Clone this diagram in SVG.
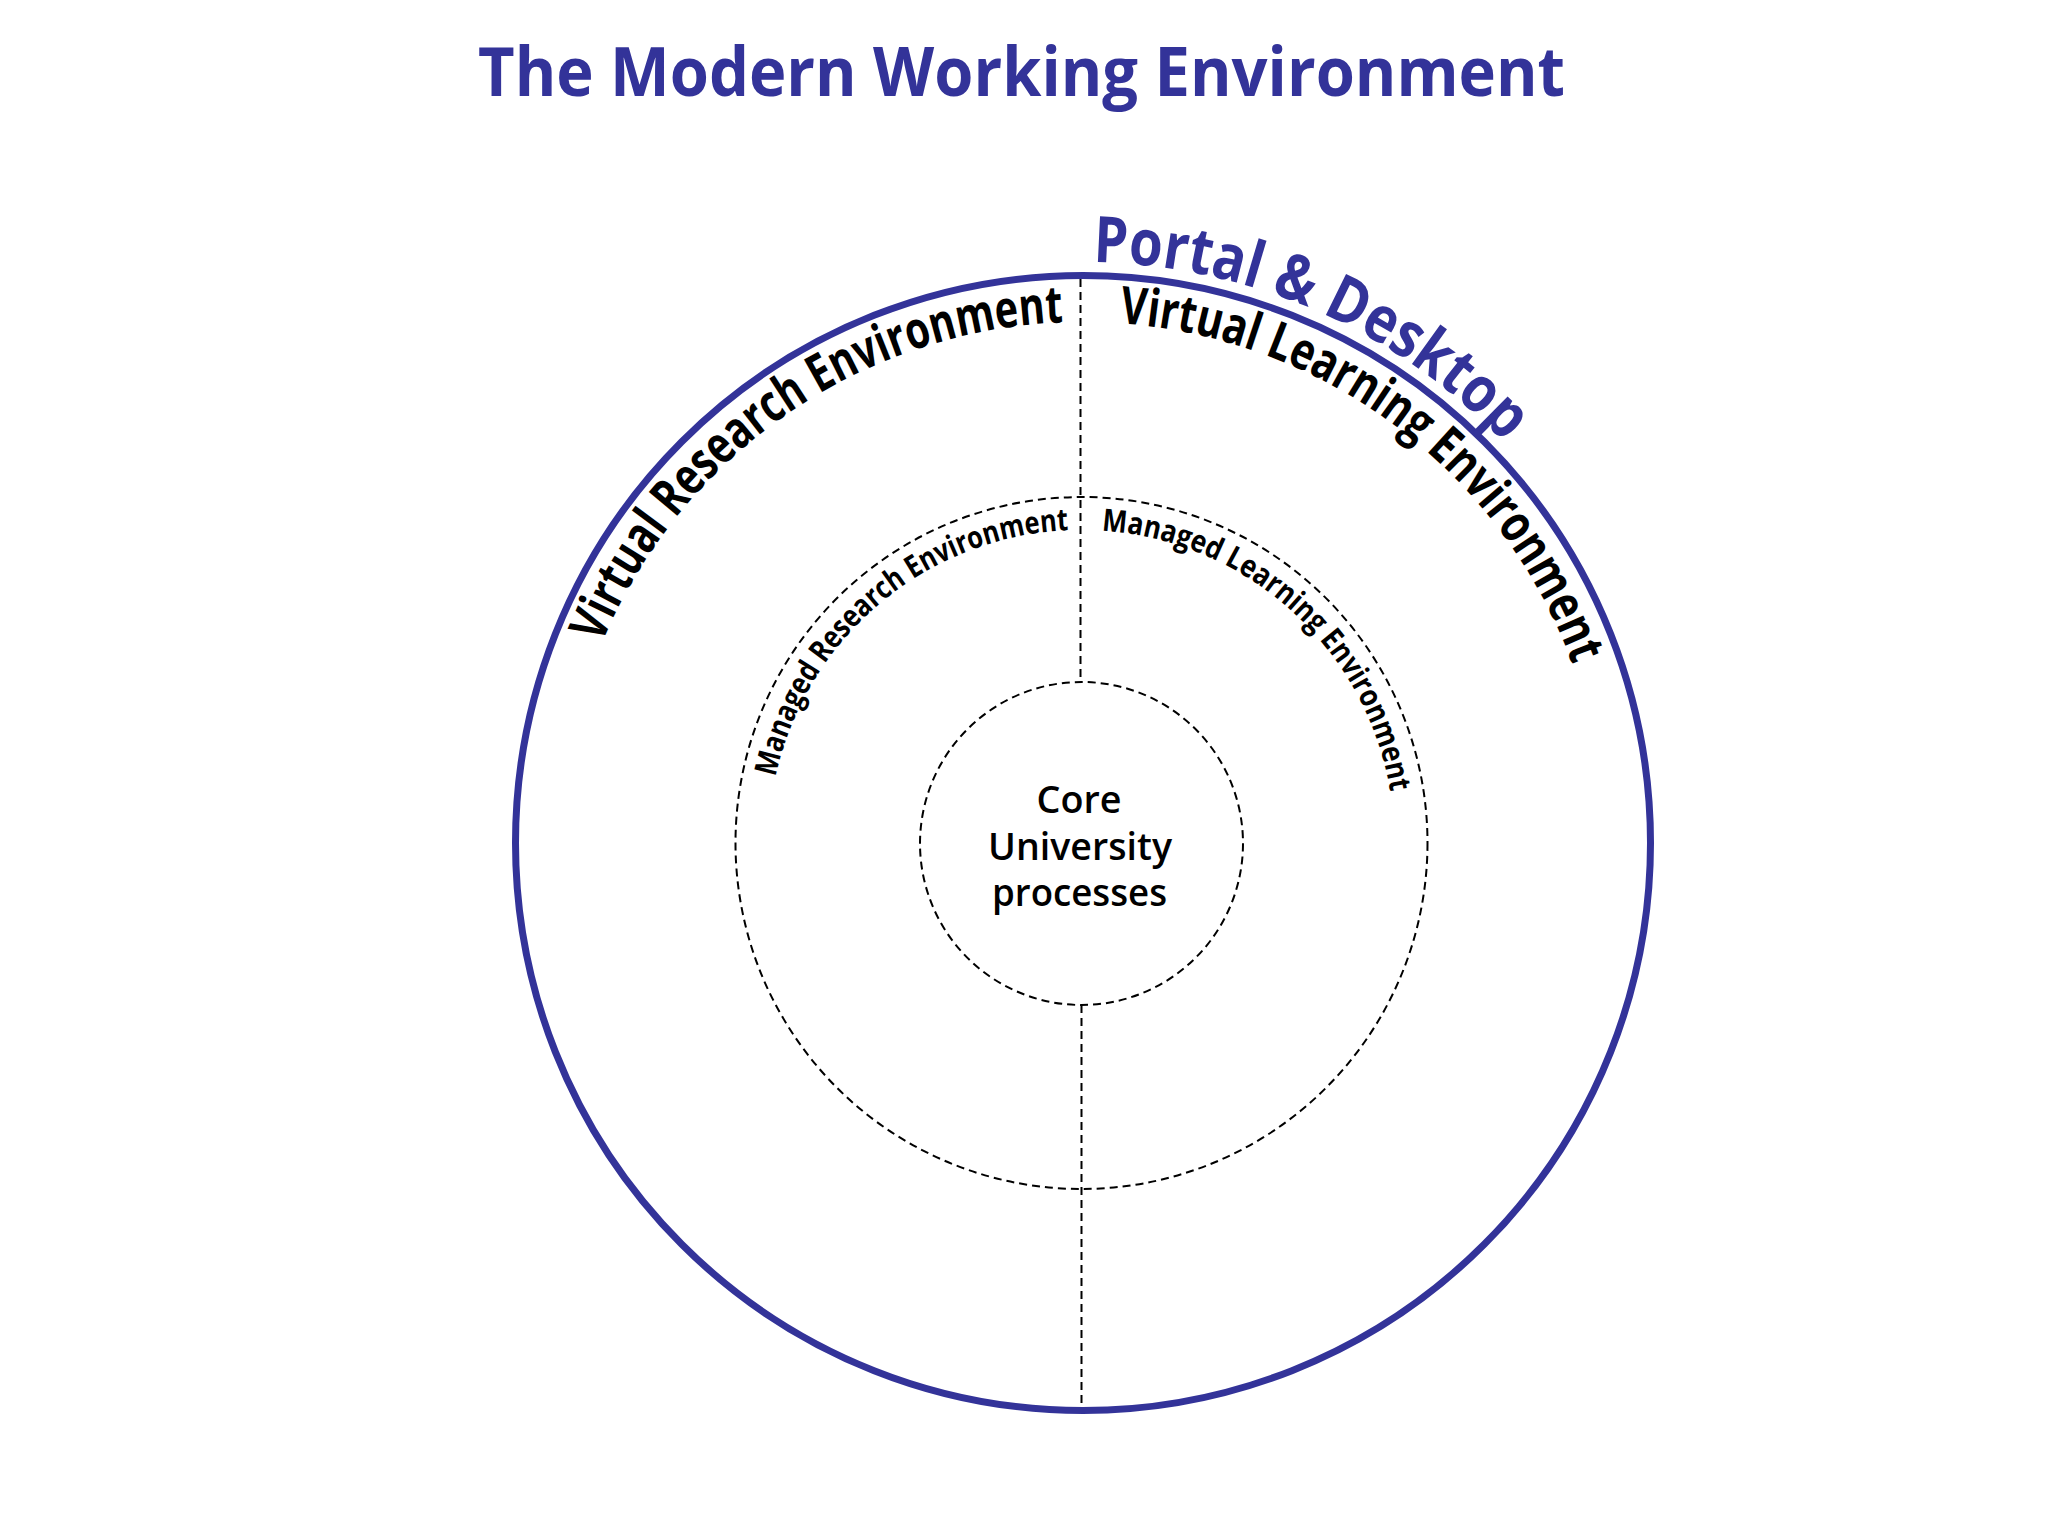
<svg xmlns="http://www.w3.org/2000/svg" width="2048" height="1536" viewBox="0 0 2048 1536">
<style>
.blue{fill:#333399;font-family:"Open Sans","Liberation Sans",sans-serif;}
.ring{fill:none;stroke:#333399;stroke-width:7;}
.dash{fill:none;stroke:#000;stroke-width:2;stroke-dasharray:8,5;}
.lbl{fill:#000;font-family:"Open Sans","Liberation Sans",sans-serif;font-weight:700;}
.core{fill:#000;font-family:"Open Sans","Liberation Sans",sans-serif;font-weight:600;font-size:37px;text-anchor:middle;}
</style>
<defs>
<path id="pPortal" d="M1093.14,262.09 A581,581 0 0 1 1586.2,552.5"/>
<path id="pVLE" d="M1119.34,323.27 A521,521 0 0 1 1602,797.6"/>
<path id="pVRE" d="M601.66,643.62 A521,521 0 0 1 1083,322"/>
<path id="pMRE" d="M775.57,776.86 A313,313 0 0 1 1081.5,530"/>
<path id="pMLE" d="M1101.7,530.65 A313,313 0 0 1 1394.5,843"/>
</defs>
<rect width="2048" height="1536" fill="#fff"/>
<g id="title">
<text class="blue" x="1021.5" y="96" font-size="68" font-weight="700" text-anchor="middle" textLength="1087" lengthAdjust="spacingAndGlyphs">The Modern Working Environment</text>
</g>
<g id="connectors">
<line class="dash" x1="1080.5" y1="279" x2="1080.5" y2="682"/>
<line class="dash" x1="1081.5" y1="1005" x2="1081.5" y2="1408"/>
</g>
<g id="portal-desktop">
<circle class="ring" cx="1083" cy="843" r="567.5"/>
<text class="blue" font-size="64" font-weight="700"><textPath href="#pPortal" textLength="461" lengthAdjust="spacingAndGlyphs">Portal &amp; Desktop</textPath></text>
</g>
<g id="virtual-research-environment">
<text class="lbl" font-size="52"><textPath href="#pVRE" textLength="594" lengthAdjust="spacingAndGlyphs">Virtual Research Environment</textPath></text>
</g>
<g id="virtual-learning-environment">
<text class="lbl" font-size="52"><textPath href="#pVLE" textLength="600" lengthAdjust="spacingAndGlyphs">Virtual Learning Environment</textPath></text>
</g>
<g id="managed-environments">
<circle class="dash" cx="1081.5" cy="843" r="346"/>
</g>
<g id="managed-research-environment">
<text class="lbl" font-size="31"><textPath href="#pMRE" textLength="412" lengthAdjust="spacingAndGlyphs">Managed Research Environment</textPath></text>
</g>
<g id="managed-learning-environment">
<text class="lbl" font-size="31"><textPath href="#pMLE" textLength="420" lengthAdjust="spacingAndGlyphs">Managed Learning Environment</textPath></text>
</g>
<g id="core-university-processes">
<circle class="dash" cx="1081.5" cy="843.5" r="161.5"/>
<text class="core" x="1079" y="813" textLength="85" lengthAdjust="spacingAndGlyphs">Core</text>
<text class="core" x="1080" y="860" textLength="184" lengthAdjust="spacingAndGlyphs">University</text>
<text class="core" x="1079.5" y="906" textLength="175" lengthAdjust="spacingAndGlyphs">processes</text>
</g>
</svg>
